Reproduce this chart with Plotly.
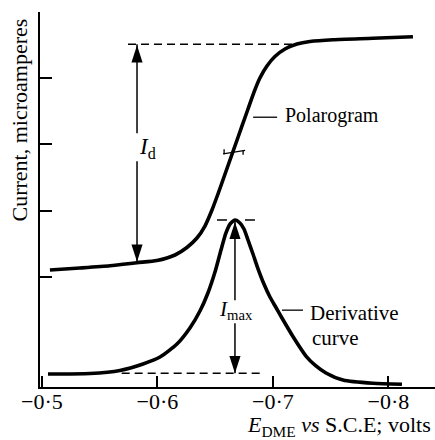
import plotly.graph_objects as go

# Polarogram: current against electrode potential (volts vs S.C.E.)
POLAR_E = [-0.5069, -0.5329, -0.5589, -0.5823, -0.5996, -0.6152, -0.6255, -0.6342,
           -0.6411, -0.6472, -0.6524, -0.6576, -0.6628, -0.6680, -0.6732, -0.6784,
           -0.6836, -0.6887, -0.6948, -0.7017, -0.7104, -0.7208, -0.7320, -0.7520,
           -0.7866, -0.8212]
POLAR_I = [1.106, 1.136, 1.170, 1.216, 1.249, 1.332, 1.445, 1.588,
           1.769, 2.011, 2.252, 2.508, 2.765, 3.021, 3.278, 3.534,
           3.790, 4.002, 4.183, 4.326, 4.439, 4.514, 4.552, 4.579,
           4.600, 4.624]

# Derivative curve (dI/dE, same vertical scale units)
DERIV_E = [-0.5052, -0.5416, -0.5675, -0.5875, -0.6022, -0.6169, -0.6281, -0.6368,
           -0.6437, -0.6498, -0.6550, -0.6593, -0.6628, -0.6671, -0.6714, -0.6749,
           -0.6784, -0.6827, -0.6870, -0.6922, -0.6974, -0.7026, -0.7078, -0.7173,
           -0.7286, -0.7372, -0.7459, -0.7606, -0.7866, -0.8117]
DERIV_I = [-0.463, -0.456, -0.410, -0.312, -0.207, -0.011, 0.231, 0.487,
           0.759, 1.075, 1.407, 1.664, 1.799, 1.860, 1.815, 1.724,
           1.558, 1.347, 1.128, 0.894, 0.698, 0.540, 0.382, 0.103,
           -0.192, -0.342, -0.448, -0.554, -0.603, -0.618]

# Axis ticks
X_TICKS = [-0.5, -0.6, -0.7, -0.8]
X_TICK_TEXT = ["\u22120\u00b75", "\u22120\u00b76", "\u22120\u00b77", "\u22120\u00b78"]
Y_TICKS = [1, 2, 3, 4]

# Construction lines
LIMIT_I = 4.51                   # extrapolated limiting current
LIMIT_SPAN = [-0.5745, -0.7234]
BASE_I = -0.45                   # derivative baseline
BASE_SPAN = [-0.569, -0.689]
PEAK_E, PEAK_I = -0.6671, 1.86   # derivative maximum
ID_E, ID_LOW = -0.5823, 1.216    # diffusion-current arrow
HALF_E, HALF_I = -0.6655, 2.88   # half-wave point

X_RANGE = [-0.4983, -0.8403]
Y_RANGE = [-0.659, 4.997]
W, H = 435, 440
M = dict(l=40, r=0, t=12, b=53)
PW, PH = W - M["l"] - M["r"], H - M["t"] - M["b"]
VPP = (X_RANGE[1] - X_RANGE[0]) / PW   # volts per pixel
IPP = (Y_RANGE[1] - Y_RANGE[0]) / PH   # current units per pixel

FONT = "Liberation Serif"
INK = "#000000"


def ex(e, dpx):
    return e + dpx * VPP


def iy(i, dpy):
    return i - dpy * IPP


fig = go.Figure()


def seg(xs, ys, width=1.5, dash=None):
    fig.add_trace(go.Scatter(x=xs, y=ys, mode="lines", hoverinfo="skip",
                             line=dict(color=INK, width=width, dash=dash)))


# dashed construction lines
seg(LIMIT_SPAN, [LIMIT_I, LIMIT_I], dash="8px,5px")
seg(BASE_SPAN, [BASE_I, BASE_I], dash="8px,5px")
seg([ex(PEAK_E, -18), ex(PEAK_E, -8)], [PEAK_I, PEAK_I])
seg([ex(PEAK_E, 10), ex(PEAK_E, 20)], [PEAK_I, PEAK_I])

# curves
fig.add_trace(go.Scatter(x=POLAR_E, y=POLAR_I, mode="lines", hoverinfo="skip",
                         line=dict(color=INK, width=3.6, shape="spline", smoothing=0.6)))
fig.add_trace(go.Scatter(x=DERIV_E, y=DERIV_I, mode="lines", hoverinfo="skip",
                         line=dict(color=INK, width=3.6, shape="spline", smoothing=0.6)))

# I_d double arrow, broken by its label
id_lab = (LIMIT_I + ID_LOW) / 2 + 0.08
seg([ID_E, ID_E], [LIMIT_I, iy(id_lab, -15)])
seg([ID_E, ID_E], [iy(id_lab, 13), ID_LOW])
# I_max double arrow, broken by its label
imax_lab = 0.50
seg([PEAK_E, PEAK_E], [PEAK_I, iy(imax_lab, -10)])
seg([PEAK_E, PEAK_E], [iy(imax_lab, 13), BASE_I])

fig.add_trace(go.Scatter(
    x=[ID_E, ID_E, PEAK_E, PEAK_E],
    y=[iy(LIMIT_I, 1), iy(ID_LOW, -1), iy(PEAK_I, 2), BASE_I],
    mode="markers", hoverinfo="skip",
    marker=dict(symbol="arrow", size=18, color=INK, angle=[0, 180, 0, 180],
                line=dict(width=0))))

# half-wave potential mark
seg([ex(HALF_E, -10), ex(HALF_E, 12)], [iy(HALF_I, 1.5), iy(HALF_I, -2)], width=1.3)
seg([ex(HALF_E, -9), ex(HALF_E, -9)], [iy(HALF_I, 2), iy(HALF_I, -3)], width=1.3)
seg([ex(HALF_E, 10), ex(HALF_E, 10)], [iy(HALF_I, -2), iy(HALF_I, 2.5)], width=1.3)

# leader lines for the curve labels
seg([ex(HALF_E, 20), ex(HALF_E, 44)], [3.41, 3.41], width=1.3)
seg([ex(PEAK_E, 47), ex(PEAK_E, 68)], [0.50, 0.50], width=1.3)

ann = []


def text(x, y, s, size=21, xanchor="left", **kw):
    ann.append(dict(x=x, y=y, xref="x", yref="y", text=s, showarrow=False,
                    xanchor=xanchor, yanchor="middle",
                    font=dict(family=FONT, size=size, color=INK), **kw))


text(ex(HALF_E, 50), 3.43, "Polarogram", size=20)
text(ex(PEAK_E, 73), iy(0.43, -2), "Derivative")
text(ex(PEAK_E, 75), iy(0.12, 2.5), "curve")
text(ex(ID_E, 10), id_lab, "<i>I</i><sub>d</sub>", size=23, xanchor="center")
text(ex(PEAK_E, 1), imax_lab, "<i>I</i><sub>max</sub>", size=21, xanchor="center")

ann.append(dict(x=(19 - M["l"]) / PW, y=(H - M["b"] - 120.5) / PH, xref="paper", yref="paper",
                text="Current, microamperes", textangle=-90, showarrow=False,
                xanchor="center", yanchor="middle",
                font=dict(family=FONT, size=22, color=INK)))
ann.append(dict(x=(433 - M["l"]) / PW, y=-(426 - (H - M["b"])) / PH, xref="paper", yref="paper",
                text="<i>E</i><sub>DME</sub> <i>vs</i> S.C.E; volts", showarrow=False,
                xanchor="right", yanchor="middle",
                font=dict(family=FONT, size=22, color=INK)))

fig.update_layout(
    width=W, height=H, margin=M, showlegend=False,
    paper_bgcolor="white", plot_bgcolor="white",
    annotations=ann,
    xaxis=dict(range=X_RANGE, showgrid=False, zeroline=False, showline=True,
               linecolor=INK, linewidth=2, ticks="inside", ticklen=11, tickwidth=1.5,
               tickcolor=INK, tickvals=X_TICKS, ticktext=X_TICK_TEXT,
               ticklabelstandoff=-6,
               tickfont=dict(family=FONT, size=22, color=INK)),
    yaxis=dict(range=Y_RANGE, showgrid=False, zeroline=False, showline=True,
               linecolor=INK, linewidth=2, ticks="inside", ticklen=12, tickwidth=1.5,
               tickcolor=INK, tickvals=Y_TICKS, showticklabels=False),
)

fig.write_html("out.html")
